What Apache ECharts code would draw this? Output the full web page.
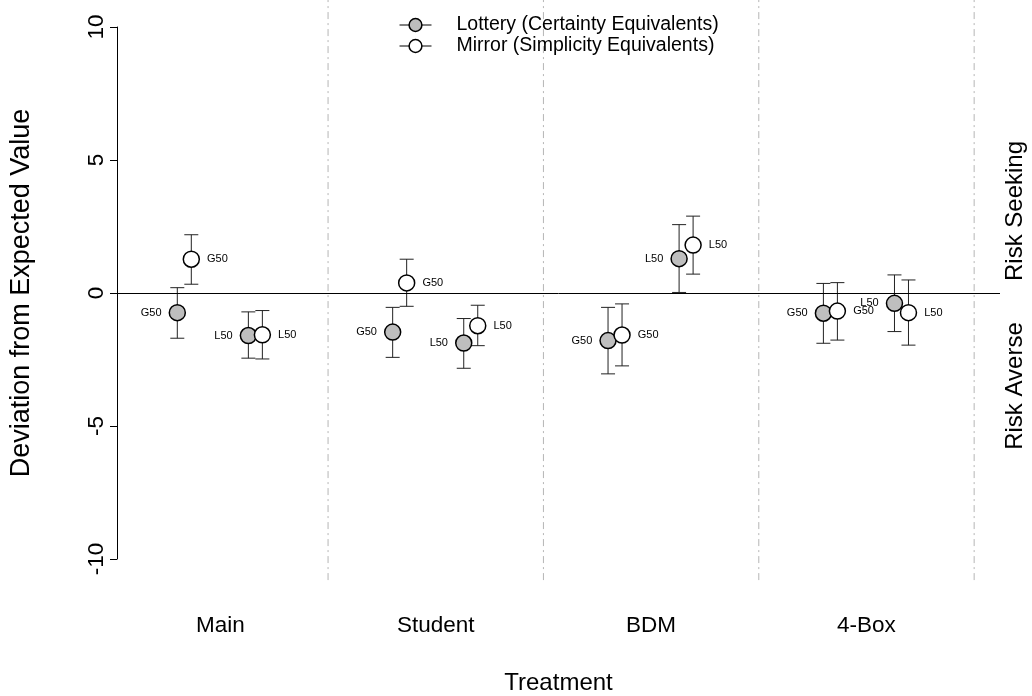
<!DOCTYPE html>
<html><head><meta charset="utf-8">
<script src="https://cdn.jsdelivr.net/npm/echarts@6/dist/echarts.min.js"></script>
<style>html,body{margin:0;padding:0;background:#fff}#c{width:1032px;height:696px}</style>
</head><body><div id="c"></div>
<script>
const categories = ["Main", "Student", "BDM", "4-Box"];
const yTicks = [-10, -5, 0, 5, 10];
// Lottery (Certainty Equivalents)
const lotG50Mean = [-0.74, -1.47, -1.79, -0.76];
const lotG50Lo   = [-1.70, -2.42, -3.04, -1.89];
const lotG50Hi   = [0.20, -0.54, -0.54, 0.36];
const lotL50Mean = [-1.60, -1.88, 1.29, -0.39];
const lotL50Lo   = [-2.45, -2.83, 0.02, -1.45];
const lotL50Hi   = [-0.71, -0.96, 2.57, 0.68];
// Mirror (Simplicity Equivalents)
const mirG50Mean = [1.27, 0.38, -1.58, -0.68];
const mirG50Lo   = [0.33, -0.50, -2.74, -1.77];
const mirG50Hi   = [2.19, 1.27, -0.41, 0.39];
const mirL50Mean = [-1.57, -1.23, 1.80, -0.74];
const mirL50Lo   = [-2.48, -1.98, 0.71, -1.96];
const mirL50Hi   = [-0.66, -0.46, 2.89, 0.49];

const FONT = "Liberation Sans";
const OFF = {lotG: -0.2, mirG: -0.135, lotL: 0.13, mirL: 0.195};

function pts(mean, off, tag) { return mean.map((v, i) => [i + 1 + off, v, tag]); }
function bars(lo, hi, off) { return lo.map((v, i) => [i + 1 + off, v, hi[i]]); }

const lotteryData = pts(lotG50Mean, OFF.lotG, "G50").concat(pts(lotL50Mean, OFF.lotL, "L50"));
const mirrorData = pts(mirG50Mean, OFF.mirG, "G50").concat(pts(mirL50Mean, OFF.mirL, "L50"));
const errData = bars(lotG50Lo, lotG50Hi, OFF.lotG)
  .concat(bars(lotL50Lo, lotL50Hi, OFF.lotL))
  .concat(bars(mirG50Lo, mirG50Hi, OFF.mirG))
  .concat(bars(mirL50Lo, mirL50Hi, OFF.mirL));
const separators = categories.map((c, i) => [i + 1.5]);

const chart = echarts.init(document.getElementById('c'));
chart.setOption({
  animation: false,
  textStyle: {fontFamily: FONT},
  grid: {left: 117, right: 32, top: 27, bottom: 137, outerBoundsMode: 'none', containLabel: false},
  legend: {
    orient: 'vertical', left: 394, top: 10, itemWidth: 32, itemHeight: 16, itemGap: 1,
    textStyle: {fontFamily: FONT, fontSize: 19.5, color: '#000', padding: [0, 0, 0, 20]},
    lineStyle: {color: '#000', width: 1, opacity: 1},
    itemStyle: {borderColor: '#000', borderWidth: 1.5},
    data: ['Lottery (Certainty Equivalents)', 'Mirror (Simplicity Equivalents)']
  },
  xAxis: {
    type: 'value', min: 0.52, max: 4.62,
    splitLine: {show: false}, axisLine: {show: false}, axisTick: {show: false},
    axisLabel: {customValues: [1, 2, 3, 4], formatter: v => categories[Math.round(v) - 1],
      fontSize: 22.5, color: '#000', margin: 55, fontFamily: FONT},
    name: 'Treatment', nameLocation: 'middle', nameGap: 112,
    nameTextStyle: {fontSize: 24, color: '#000', fontFamily: FONT}
  },
  yAxis: {
    type: 'value', min: -10, max: 10, interval: 5,
    splitLine: {show: false},
    axisLine: {show: true, lineStyle: {color: '#000', width: 1}},
    axisTick: {show: true, length: 7, lineStyle: {color: '#000'}, customValues: yTicks},
    axisLabel: {rotate: 90, fontSize: 22.5, color: '#000', margin: 9, fontFamily: FONT, customValues: yTicks},
    name: 'Deviation from Expected Value', nameLocation: 'middle', nameGap: 82, nameRotate: 90,
    nameTextStyle: {fontSize: 27, color: '#000', fontFamily: FONT}
  },
  graphic: [
    {type: 'text', x: 1015, y: 211, rotation: Math.PI / 2,
      style: {text: 'Risk Seeking', fontSize: 24, fontFamily: FONT, fill: '#000', align: 'center', verticalAlign: 'middle'}},
    {type: 'text', x: 1015, y: 386, rotation: Math.PI / 2,
      style: {text: 'Risk Averse', fontSize: 24, fontFamily: FONT, fill: '#000', align: 'center', verticalAlign: 'middle'}}
  ],
  series: [
    {
      type: 'custom', name: 'sep', silent: true, clip: false, z: 0,
      data: separators,
      renderItem: (params, api) => {
        const top = api.coord([api.value(0), 11.2]);
        const bot = api.coord([api.value(0), -10.8]);
        return {type: 'line', shape: {x1: top[0], y1: top[1], x2: bot[0], y2: bot[1]},
          style: {stroke: '#b5b5b5', lineWidth: 1, lineDash: [7, 4, 2, 4]}};
      }
    },
    {
      type: 'custom', name: 'err', silent: true, z: 1,
      data: errData,
      renderItem: (params, api) => {
        const lo = api.coord([api.value(0), api.value(1)]);
        const hi = api.coord([api.value(0), api.value(2)]);
        const w = 7;
        const st = {stroke: '#222', lineWidth: 1};
        return {type: 'group', children: [
          {type: 'line', shape: {x1: lo[0], y1: lo[1], x2: hi[0], y2: hi[1]}, style: st},
          {type: 'line', shape: {x1: lo[0] - w, y1: lo[1], x2: lo[0] + w, y2: lo[1]}, style: st},
          {type: 'line', shape: {x1: hi[0] - w, y1: hi[1], x2: hi[0] + w, y2: hi[1]}, style: st}
        ]};
      }
    },
    {
      type: 'line', name: 'Lottery (Certainty Equivalents)', z: 2,
      data: lotteryData, symbol: 'circle', symbolSize: 16, showSymbol: true,
      lineStyle: {opacity: 0},
      itemStyle: {color: '#bebebe', borderColor: '#000', borderWidth: 1.5},
      label: {show: true, position: 'left', distance: 7, fontSize: 11, color: '#000', fontFamily: FONT,
        formatter: p => p.value[2]},
      markLine: {silent: true, symbol: 'none', label: {show: false},
        lineStyle: {color: '#000', width: 1, type: 'solid'}, data: [{yAxis: 0}]},
      emphasis: {disabled: true}
    },
    {
      type: 'line', name: 'Mirror (Simplicity Equivalents)', z: 3,
      data: mirrorData, symbol: 'circle', symbolSize: 16, showSymbol: true,
      lineStyle: {opacity: 0},
      itemStyle: {color: '#ffffff', borderColor: '#000', borderWidth: 1.5},
      label: {show: true, position: 'right', distance: 7, fontSize: 11, color: '#000', fontFamily: FONT,
        formatter: p => p.value[2]},
      emphasis: {disabled: true}
    }
  ]
});
</script></body></html>
